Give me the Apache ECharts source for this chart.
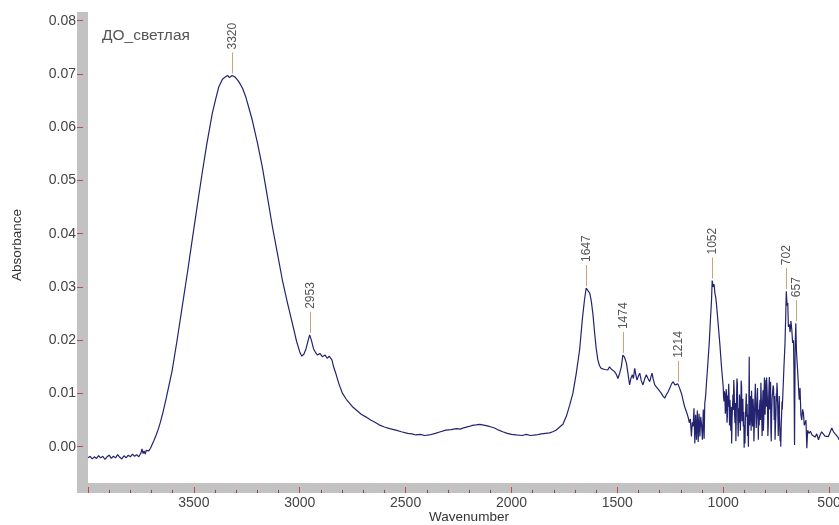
<!DOCTYPE html>
<html>
<head>
<meta charset="utf-8">
<script src="https://cdn.jsdelivr.net/npm/echarts@6/dist/echarts.min.js"></script>
<style>
  html, body { margin: 0; padding: 0; background: #ffffff; }
  #chart { width: 839px; height: 525px; }
</style>
</head>
<body>
<div id="chart"></div>
<script>
// IR spectrum of sample "ДО_светлая": wavenumber (cm-1) and absorbance
const sampleName = 'ДО_светлая';

const wavenumber = [
  4000, 3990, 3980, 3970, 3960, 3950, 3940, 3930, 3920, 3910,
  3900, 3890, 3880, 3870, 3860, 3850, 3840, 3830, 3820, 3810,
  3800, 3790, 3780, 3770, 3760, 3750, 3745, 3740, 3735, 3730,
  3725, 3720, 3713, 3705, 3697, 3688, 3678, 3668, 3658, 3645,
  3630, 3617, 3603, 3580, 3555, 3530, 3508, 3485, 3461, 3440,
  3413, 3395, 3382, 3365, 3350, 3340, 3332, 3320, 3305, 3287,
  3270, 3255, 3240, 3224, 3200, 3177, 3153, 3129, 3105, 3082,
  3058, 3035, 3015, 3000, 2990, 2980, 2970, 2960, 2953, 2945,
  2935, 2924, 2916, 2905, 2893, 2880, 2870, 2861, 2848, 2840,
  2830, 2815, 2798, 2780, 2765, 2751, 2730, 2710, 2688, 2665,
  2645, 2625, 2600, 2575, 2546, 2520, 2490, 2470, 2451, 2430,
  2410, 2388, 2360, 2335, 2310, 2285, 2260, 2240, 2230, 2200,
  2185, 2167, 2150, 2125, 2104, 2080, 2060, 2041, 2020, 2000,
  1978, 1950, 1930, 1910, 1883, 1860, 1840, 1820, 1805, 1790,
  1775, 1757, 1740, 1725, 1710, 1695, 1678, 1665, 1655, 1647,
  1639, 1630, 1623, 1615, 1607, 1600, 1592, 1584, 1576, 1568,
  1560, 1553, 1545, 1537, 1529, 1521, 1513, 1505, 1497, 1489,
  1481, 1474, 1466, 1457, 1450, 1442, 1436, 1429, 1424, 1418,
  1412, 1407, 1400, 1394, 1387, 1379, 1371, 1363, 1355, 1347,
  1341, 1336, 1330, 1323, 1315, 1307, 1300, 1292, 1284, 1276,
  1268, 1260, 1252, 1244, 1236, 1228, 1221, 1214, 1206, 1197,
  1190, 1182, 1174, 1166, 1160, 1155, 1150, 1146, 1142, 1138,
  1134, 1130, 1126, 1122, 1118, 1114, 1110, 1106, 1102, 1098,
  1094, 1090, 1087, 1083, 1079, 1072, 1066, 1060, 1055, 1052,
  1047, 1043, 1039, 1035, 1032, 1024, 1016, 1008,
  1000, 998, 996, 994, 992, 990, 988, 986, 984, 982,
  980, 978, 976, 974, 972, 970, 968, 966, 964, 962,
  960, 958, 956, 954, 952, 950, 948, 946, 944, 942,
  940, 938, 937, 935, 933, 931, 929, 927, 925, 923,
  921, 919, 917, 915, 913, 911, 909, 907, 905, 903,
  901, 899, 897, 895, 893, 891, 889, 887, 885, 883,
  881, 879, 877, 875, 873, 871, 870, 868, 866, 864,
  861, 859, 857, 855, 854, 852, 850, 848, 846, 844,
  842, 840, 838, 836, 834, 832, 830, 828, 826, 824,
  822, 820, 818, 816, 814, 812, 810, 808, 807, 805,
  802, 800, 798, 796, 795, 793, 791, 789, 787, 785,
  782, 780, 778, 776, 775, 773, 771, 769, 766, 764,
  762, 760, 759, 757, 755, 753, 751, 749, 748, 746,
  744, 742, 740, 738, 737, 735, 734, 732, 731, 729,
  728, 726, 724, 722, 721,
  718, 713, 708, 704, 702, 698, 695, 692, 688, 684,
  680, 676, 672, 668, 666, 663, 660, 657, 654, 651,
  648, 645, 641, 637, 633, 629, 625, 621, 617, 613,
  609, 605, 601, 595, 588, 580, 574, 566, 558, 550,
  543, 535, 527, 519, 511, 503, 495, 487, 479, 471,
  464, 458, 453
];

const absorbance = [
  -0.0021, -0.0018, -0.0023, -0.0019, -0.0022, -0.0017, -0.0021, -0.0018, -0.0024, -0.0019,
  -0.0016, -0.0022, -0.0018, -0.0021, -0.0015, -0.0020, -0.0023, -0.0017, -0.0021, -0.0016,
  -0.0019, -0.0014, -0.0018, -0.0015, -0.0019, -0.0012, -0.0004, -0.0013, -0.0008, -0.0014,
  -0.0007, -0.0005, -0.0008, -0.0003, 0.0004, 0.0012, 0.0022, 0.0033, 0.0046, 0.0066,
  0.0092, 0.0116, 0.0142, 0.0198, 0.0263, 0.0328, 0.0388, 0.0450, 0.0513, 0.0566,
  0.0626, 0.0656, 0.0676, 0.0690, 0.0695, 0.0697, 0.0693, 0.0697, 0.0694, 0.0685,
  0.0673, 0.0657, 0.0636, 0.0613, 0.0571, 0.0526, 0.0470, 0.0413, 0.0362, 0.0313,
  0.0270, 0.0232, 0.0198, 0.0178, 0.0170, 0.0174, 0.0184, 0.0200, 0.0210, 0.0200,
  0.0184, 0.0176, 0.0172, 0.0175, 0.0169, 0.0172, 0.0166, 0.0170, 0.0163, 0.0150,
  0.0138, 0.0118, 0.0100, 0.0089, 0.0082, 0.0075, 0.0068, 0.0061, 0.0056, 0.0050,
  0.0046, 0.0041, 0.0037, 0.0034, 0.0031, 0.0028, 0.0025, 0.0024, 0.0022, 0.0023,
  0.0021, 0.0022, 0.0025, 0.0028, 0.0031, 0.0032, 0.0034, 0.0033, 0.0035, 0.0038,
  0.0040, 0.0041, 0.0042, 0.0040, 0.0038, 0.0035, 0.0031, 0.0028, 0.0025, 0.0023,
  0.0022, 0.0021, 0.0023, 0.0021, 0.0022, 0.0024, 0.0025, 0.0026, 0.0028, 0.0031,
  0.0036, 0.0042, 0.0058, 0.0078, 0.0100, 0.0135, 0.0182, 0.0240, 0.0276, 0.0298,
  0.0297, 0.0288, 0.0274, 0.0248, 0.0213, 0.0185, 0.0163, 0.0152, 0.0147, 0.0149,
  0.0145, 0.0147, 0.0144, 0.0150, 0.0146, 0.0148, 0.0141, 0.0136, 0.0128, 0.0138,
  0.0150, 0.0172, 0.0168, 0.0157, 0.0138, 0.0116, 0.0128, 0.0135, 0.0128, 0.0147,
  0.0134, 0.0125, 0.0133, 0.0138, 0.0124, 0.0116, 0.0127, 0.0135, 0.0128, 0.0122,
  0.0131, 0.0138, 0.0126, 0.0116, 0.0112, 0.0108, 0.0106, 0.0100, 0.0095, 0.0091,
  0.0098, 0.0103, 0.0110, 0.0118, 0.0122, 0.0116, 0.0113, 0.0118, 0.0110, 0.0100,
  0.0088, 0.0075, 0.0066, 0.0056, 0.0045, 0.0052, 0.0019, 0.0046, 0.0038, 0.0072,
  0.0006, 0.0060, 0.0013, 0.0068, 0.0009, 0.0062, 0.0019, 0.0056, 0.0040, 0.0013,
  0.0070, 0.0015, 0.0081, 0.0095, 0.0119, 0.0158, 0.0194, 0.0240, 0.0276, 0.0312,
  0.0300, 0.0305, 0.0288, 0.0280, 0.0269, 0.0232, 0.0194, 0.0150,
  0.0113, 0.0092, 0.0085, 0.0104, 0.0098, 0.0062, 0.0070, 0.0108, 0.0100, 0.0045,
  0.0058, 0.0096, 0.0075, 0.0118, 0.0092, 0.0040, 0.0088, 0.0065, 0.0030, 0.0075,
  0.0006, 0.0052, 0.0072, 0.0098, 0.0069, 0.0125, 0.0105, 0.0060, 0.0044, 0.0082,
  0.0010, 0.0065, 0.0088, 0.0128, 0.0118, 0.0050, 0.0019, 0.0072, 0.0045, 0.0098,
  0.0081, 0.0030, 0.0060, 0.0124, 0.0113, 0.0048, 0.0070, 0.0090, 0.0038, 0.0065,
  -0.0002, 0.0040, 0.0006, 0.0055, 0.0078, 0.0100, 0.0056, 0.0080, 0.0020, 0.0060,
  0.0000, 0.0070, 0.0169, 0.0040, 0.0065, 0.0095, 0.0088, 0.0030, 0.0105, 0.0075,
  0.0038, 0.0090, 0.0072, 0.0010, 0.0020, 0.0060, 0.0094, 0.0118, 0.0070, 0.0035,
  0.0056, 0.0090, 0.0110, 0.0060, 0.0013, 0.0070, 0.0040, 0.0075, 0.0088, 0.0050,
  0.0120, 0.0090, 0.0056, 0.0020, 0.0080, 0.0106, 0.0030, 0.0055, 0.0100, 0.0130,
  0.0060, 0.0095, 0.0125, 0.0075, 0.0130, 0.0110, 0.0088, 0.0020, 0.0040, 0.0095,
  0.0131, 0.0070, 0.0100, 0.0122, 0.0038, 0.0010, 0.0060, 0.0090, 0.0088, 0.0115,
  0.0110, 0.0075, 0.0050, 0.0095, 0.0013, 0.0040, 0.0060, 0.0100, 0.0085, 0.0120,
  0.0106, 0.0065, 0.0020, 0.0050, 0.0075, 0.0095, 0.0056, 0.0025, 0.0010, 0.0035,
  0.0000, 0.0040, 0.0060, 0.0085, 0.0070,
  0.0100, 0.0150, 0.0194, 0.0255, 0.0292, 0.0265, 0.0270, 0.0225, 0.0230, 0.0215,
  0.0236, 0.0220, 0.0195, 0.0200, 0.0150, 0.0003, 0.0190, 0.0232, 0.0180, 0.0160,
  0.0140, 0.0138, 0.0088, 0.0110, 0.0060, 0.0050, 0.0070, 0.0063, 0.0040, 0.0044,
  0.0050, -0.0003, 0.0031, 0.0025, 0.0029, 0.0022, 0.0025, 0.0018, 0.0024, 0.0013,
  0.0021, 0.0028, 0.0025, 0.0020, 0.0023, 0.0019, 0.0027, 0.0035, 0.0028, 0.0024,
  0.0025, 0.0018, 0.0013
];

// Wavenumbers of the picked peaks
const peakLabels = [3320, 2953, 1647, 1474, 1214, 1052, 702, 657];

// Axis ticks
const xTickLabels = [3500, 3000, 2500, 2000, 1500, 1000, 500];
const xMajorTicks = [4000, 3500, 3000, 2500, 2000, 1500, 1000, 500];
const xMinorTicks = [3900, 3800, 3700, 3600, 3400, 3300, 3200, 3100, 2900, 2800, 2700, 2600,
  2400, 2300, 2200, 2100, 1900, 1800, 1700, 1600, 1400, 1300, 1200, 1100, 900, 800, 700, 600];
const yTickLabels = [0.00, 0.01, 0.02, 0.03, 0.04, 0.05, 0.06, 0.07, 0.08];

const FONT = '"Liberation Sans", Arial, sans-serif';
const spectrum = wavenumber.map((w, i) => [w, absorbance[i]]);
const peaks = peakLabels.map(w => [w, absorbance[wavenumber.indexOf(w)]]);

const chart = echarts.init(document.getElementById('chart'), null, { renderer: 'canvas' });

const option = {
  animation: false,
  backgroundColor: '#ffffff',
  textStyle: { fontFamily: FONT },
  grid: { left: 88, right: 0, top: 12, bottom: 42, containLabel: false, outerBoundsMode: 'none' },
  xAxis: [
    {
      type: 'value', min: 453, max: 4000, inverse: true,
      position: 'bottom', offset: 10,
      axisLine: { show: false, onZero: false },
      axisTick: { show: true, inside: true, length: 6, customValues: xMajorTicks,
        lineStyle: { color: '#c84646', width: 1 } },
      axisLabel: { customValues: xTickLabels, color: '#444', fontSize: 14, margin: 3,
        fontFamily: FONT, formatter: v => String(v) },
      splitLine: { show: false }
    },
    {
      type: 'value', min: 453, max: 4000, inverse: true,
      position: 'bottom', offset: 10,
      axisLine: { show: false, onZero: false },
      axisTick: { show: true, inside: true, length: 3, customValues: xMinorTicks,
        lineStyle: { color: '#8a4848', width: 1 } },
      axisLabel: { show: false },
      splitLine: { show: false }
    }
  ],
  yAxis: {
    type: 'value', min: -0.00682, max: 0.08163,
    position: 'left', offset: 11,
    axisLine: { show: false, onZero: false },
    axisTick: { show: true, inside: true, length: 6, customValues: yTickLabels,
      lineStyle: { color: '#c84646', width: 1 } },
    axisLabel: { customValues: yTickLabels, color: '#444', fontSize: 14, margin: 1,
      fontFamily: FONT, formatter: v => v.toFixed(2) },
    splitLine: { show: false }
  },
  graphic: [
    { type: 'rect', z: -10, shape: { x: 77, y: 12, width: 11, height: 481 },
      style: { fill: '#c2c2c2' } },
    { type: 'rect', z: -10, shape: { x: 77, y: 483, width: 762, height: 10 },
      style: { fill: '#c2c2c2' } },
    { type: 'text', x: 102, y: 36, style: { text: sampleName, fill: '#555',
      font: '15.5px ' + FONT, align: 'left', verticalAlign: 'middle' } },
    { type: 'text', x: 469, y: 517, style: { text: 'Wavenumber', fill: '#333',
      font: '13.5px ' + FONT, align: 'center', verticalAlign: 'middle' } },
    { type: 'text', x: 17, y: 245, rotation: Math.PI / 2, style: { text: 'Absorbance', fill: '#333',
      font: '13.5px ' + FONT, align: 'center', verticalAlign: 'middle' } }
  ],
  series: [
    {
      type: 'line', data: spectrum, xAxisIndex: 0, yAxisIndex: 0,
      symbol: 'none', showSymbol: false, smooth: false, z: 3,
      lineStyle: { color: '#23236f', width: 1.2 }
    },
    {
      type: 'custom', data: peaks, xAxisIndex: 0, yAxisIndex: 0, z: 4, silent: true,
      renderItem: function (params, api) {
        const p = api.coord([api.value(0), api.value(1)]);
        const x = Math.round(p[0]) + 0.5;
        return {
          type: 'group',
          children: [
            { type: 'line', shape: { x1: x, y1: p[1] - 2, x2: x, y2: p[1] - 23 },
              style: { stroke: '#c9a477', lineWidth: 1 } },
            { type: 'text', x: x, y: p[1] - 26, rotation: Math.PI / 2,
              style: { text: String(api.value(0)), fill: '#555', font: '12px ' + FONT,
                align: 'left', verticalAlign: 'middle' } }
          ]
        };
      }
    }
  ]
};

chart.setOption(option);
</script>
</body>
</html>
